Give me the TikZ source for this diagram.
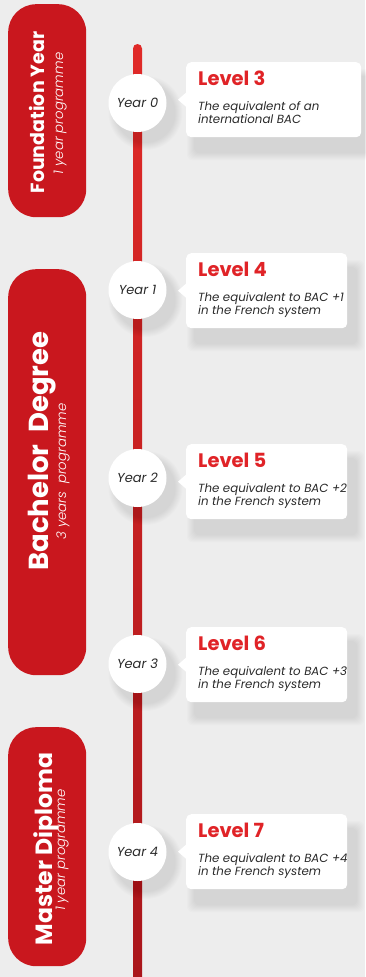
\documentclass[tikz,border=0pt]{standalone}
\usepackage{fontspec}
\setmainfont{Poppins}
\IfFontExistsTF{Poppins Light Italic}{\newfontfamily\thinit{Poppins Light Italic}}{\def\thinit{\itshape}}
\usepackage{tikz}
\usetikzlibrary{positioning,calc}
\definecolor{bggray}{HTML}{EDEDED}
\definecolor{pillred}{HTML}{C9171E}
\definecolor{lvlred}{HTML}{E02327}
\definecolor{linetop}{HTML}{E02A28}
\definecolor{linebot}{HTML}{A9161B}
\definecolor{ink}{HTML}{2A2A2A}
\tikzstyle{pill}=[fill=pillred,rounded corners=28pt,minimum width=78pt,inner sep=0pt,anchor=north west]
\tikzstyle{yearnode}=[circle,fill=white,minimum size=58pt,inner sep=0pt,text=ink,font=\fontsize{13}{15}\selectfont\itshape]
\tikzstyle{card}=[fill=white,rounded corners=5pt,minimum height=75pt,inner sep=0pt,anchor=north west]
\tikzstyle{lvl}=[anchor=base west,inner sep=0pt,text=lvlred,font=\fontsize{19.5}{21}\selectfont\bfseries]
\tikzstyle{desc}=[anchor=base west,inner sep=0pt,align=left,text=ink,font=\fontsize{11.8}{13}\selectfont\itshape]
\tikzstyle{ptitle}=[rotate=90,anchor=base,inner sep=0pt,text=white,font=\bfseries]
\tikzstyle{psub}=[rotate=90,anchor=base,inner sep=0pt,text=white,font=\fontsize{13.3}{15}\selectfont\thinit]
\tikzstyle{haze}=[black,opacity=0.011]
\def\stage#1#2#3#4#5#6#7{%
  \node[card,minimum width=#4,fill=none] (card#1) at (186,#3) {};
  \foreach \s in {1,...,8}
    \fill[haze,rounded corners=6pt] ($(card#1.north west)+(9-\s,15-\s)$) rectangle ($(card#1.south east)+(9+\s,15+\s)$);
  \foreach \s in {1,...,8}
    \fill[haze] ($(137.5,#2)+(8,10)$) circle ({29+\s});
  \node[yearnode] (yr#1) at (137.5,#2) {#5};
  \node[card,minimum width=#4,anchor=center] at (card#1) {};
  \fill[white] ($(card#1.west)+(0,-7)$) -- ($(card#1.west)+(-8,0)$) -- ($(card#1.west)+(0,7)$) -- cycle;
  \node[lvl] (lvl#1) at (198,{#3+23.5}) {Level #6};
  \node[desc] (desc#1) at (198,{#3+61}) {#7};
}
\begin{document}
\begin{tikzpicture}[x=1pt,y=-1pt]
  \fill[bggray] (0,0) rectangle (365,977);
  \useasboundingbox (0,0) rectangle (365,977);

  \node[pill,minimum height=213pt] (found) at (8,4) {};
  \node[pill,minimum height=406pt] (bach) at (8,269) {};
  \node[pill,minimum height=239pt] (mast) at (8,727) {};
  \node[ptitle,font=\fontsize{19}{21}\selectfont\bfseries] (foundt) at (44,112.5) {Foundation Year};
  \node[psub] (founds) at (63,113.5) {1 year programme};
  \node[ptitle,font=\fontsize{27.5}{30}\selectfont\bfseries] (bacht) at (48,451) {Bachelor\ \ Degree};
  \node[psub] (bachs) at (66,471.5) {3 years\ \ programme};
  \node[ptitle,font=\fontsize{23.5}{26}\selectfont\bfseries] (mastt) at (52,849) {Master Diploma};
  \node[psub] (masts) at (65,850) {1 year programme};

  \coordinate (ltop) at (137.5,44);
  \coordinate (lbot) at (137.5,990);
  \shade[top color=linetop,bottom color=linebot,rounded corners=4.5pt] ($(ltop)+(-4.5,0)$) rectangle ($(lbot)+(4.5,0)$);

  \stage{3}{103}{62}{175}{Year 0}{3}{The equivalent of an\\international BAC}
  \stage{4}{290}{253}{161}{Year 1}{4}{The equivalent to BAC +1\\in the French system}
  \stage{5}{478}{444}{161}{Year 2}{5}{The equivalent to BAC +2\\in the French system}
  \stage{6}{664}{627}{161}{Year 3}{6}{The equivalent to BAC +3\\in the French system}
  \stage{7}{852}{814}{161}{Year 4}{7}{The equivalent to BAC +4\\in the French system}
\end{tikzpicture}
\end{document}
